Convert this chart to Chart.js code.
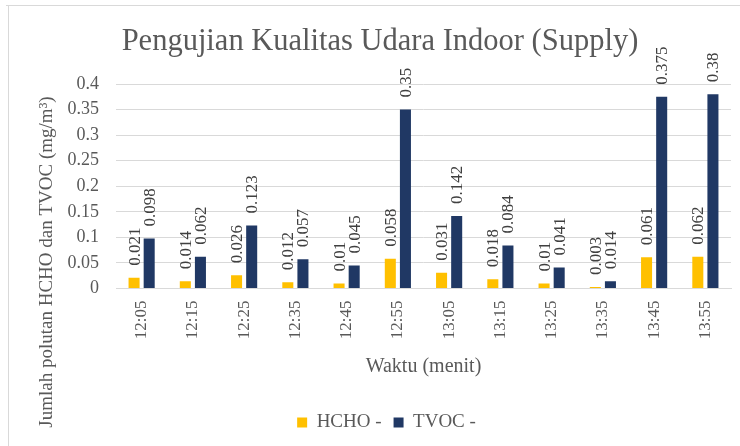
<!DOCTYPE html>
<html>
<head>
<meta charset="utf-8">
<script src="https://cdn.jsdelivr.net/npm/chart.js@4/dist/chart.umd.min.js"></script>
<style>
  html, body { margin: 0; padding: 0; background: #fff; }
  #wrap { width: 740px; height: 446px; }
</style>
</head>
<body>
<div id="wrap"><canvas id="chart" width="740" height="446"></canvas></div>
<script>
'use strict';

// ── Data ──
const TIMES = ['12:05', '12:15', '12:25', '12:35', '12:45', '12:55',
               '13:05', '13:15', '13:25', '13:35', '13:45', '13:55'];
const HCHO = [0.021, 0.014, 0.026, 0.012, 0.01, 0.058, 0.031, 0.018, 0.01, 0.003, 0.061, 0.062];
const TVOC = [0.098, 0.062, 0.123, 0.057, 0.045, 0.35, 0.142, 0.084, 0.041, 0.014, 0.375, 0.38];
const Y_TICKS = [0, 0.05, 0.1, 0.15, 0.2, 0.25, 0.3, 0.35, 0.4];

const SERIF = "'Liberation Serif', 'Times New Roman', serif";
const GREY_TEXT = '#595959';
const GRID = '#d9d9d9';

/* frame, title and y-axis title drawn by hand (Excel places them off-centre) */
const framePlugin = {
  id: 'frame',
  beforeDraw(chart) {
    const { ctx, width, height } = chart;
    ctx.save();
    ctx.fillStyle = '#fff';
    ctx.fillRect(0, 0, width, height);
    ctx.strokeStyle = GRID;
    ctx.lineWidth = 1;
    ctx.beginPath();
    ctx.moveTo(6, 5.5);
    ctx.lineTo(width, 5.5);
    ctx.moveTo(8.5, 5);
    ctx.lineTo(8.5, height);
    ctx.stroke();
    ctx.restore();
  },
  afterDraw(chart) {
    const { ctx } = chart;
    ctx.save();
    ctx.fillStyle = GREY_TEXT;
    ctx.textAlign = 'center';
    ctx.textBaseline = 'middle';

    ctx.font = `30.5px ${SERIF}`;
    ctx.fillText('Pengujian Kualitas Udara Indoor (Supply)', 380, 42);

    ctx.translate(47, 262);
    ctx.rotate(-Math.PI / 2);
    ctx.font = `19px ${SERIF}`;
    ctx.fillText('Jumlah polutan HCHO dan TVOC (mg/m\u00B3)', 0, 0);
    ctx.restore();
  },
};

/* vertical value labels above each bar */
const valueLabelPlugin = {
  id: 'valueLabels',
  afterDatasetsDraw(chart) {
    const { ctx } = chart;
    ctx.save();
    ctx.fillStyle = '#404040';
    ctx.font = `17px ${SERIF}`;
    ctx.textAlign = 'left';
    ctx.textBaseline = 'middle';
    chart.data.datasets.forEach((ds, i) => {
      chart.getDatasetMeta(i).data.forEach((bar, j) => {
        ctx.save();
        ctx.translate(bar.x + 1, bar.y - 12);
        ctx.rotate(-Math.PI / 2);
        ctx.fillText(String(ds.data[j]), 0, 0);
        ctx.restore();
      });
    });
    ctx.restore();
  },
};

new Chart(document.getElementById('chart').getContext('2d'), {
  type: 'bar',
  data: {
    labels: TIMES,
    datasets: [
      { label: 'HCHO -', data: HCHO, backgroundColor: '#FFC000' },
      { label: 'TVOC -', data: TVOC, backgroundColor: '#203864' },
    ],
  },
  options: {
    responsive: false,
    animation: false,
    categoryPercentage: 0.59,
    barPercentage: 0.73,
    layout: { padding: { left: 42, right: 9, top: 84, bottom: 4 } },
    plugins: {
      title: { display: false },
      legend: {
        position: 'bottom',
        labels: {
          color: GREY_TEXT,
          font: { family: SERIF, size: 19 },
          boxWidth: 10,
          boxHeight: 10,
          padding: 12,
        },
      },
      tooltip: { enabled: false },
    },
    scales: {
      x: {
        afterFit(scale) { scale.height = 112.5; },
        grid: { display: false, drawTicks: false },
        border: { color: GRID },
        ticks: {
          color: GREY_TEXT,
          font: { family: SERIF, size: 17 },
          minRotation: 90,
          maxRotation: 90,
          padding: 12,
        },
        title: {
          display: true,
          text: 'Waktu (menit)',
          color: GREY_TEXT,
          font: { family: SERIF, size: 20 },
          padding: { top: 10, bottom: 22 },
        },
      },
      y: {
        min: 0,
        max: 0.4,
        afterFit(scale) { scale.width = 74; },
        afterBuildTicks(scale) { scale.ticks = Y_TICKS.map(v => ({ value: v })); },
        grid: { color: GRID, drawTicks: false },
        border: { display: false },
        ticks: {
          autoSkip: false,
          color: GREY_TEXT,
          font: { family: SERIF, size: 18 },
          padding: 17,
          callback: v => String(Math.round(v * 100) / 100),
        },
      },
    },
  },
  plugins: [framePlugin, valueLabelPlugin],
});
</script>
</body>
</html>
